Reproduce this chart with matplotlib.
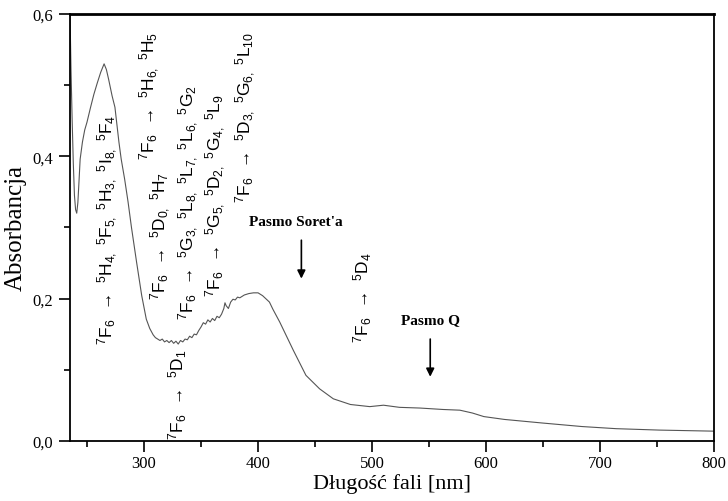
import matplotlib.pyplot as plt
import numpy as np
from matplotlib.ticker import FuncFormatter, MultipleLocator

plt.rcParams['mathtext.fontset'] = 'custom'
plt.rcParams['mathtext.rm'] = 'Liberation Sans'
plt.rcParams['mathtext.default'] = 'regular'

# widmo absorpcyjne
dlugosc = [235, 236, 237, 238, 239, 240, 241, 242, 243, 244, 246, 248, 250, 253, 256,
           259, 262, 265, 267, 269, 272, 274.5, 276, 278, 280, 283, 286, 289, 293.5,
           298, 302, 305, 308, 310, 312, 314, 316, 318, 320, 322, 324, 326, 328, 330,
           332, 334, 336, 338, 340, 342, 344, 346, 348, 350, 352, 354, 356, 358, 360,
           362, 364, 366, 368, 370, 371, 372, 374, 376, 378, 380, 382, 384, 388, 392,
           396, 400, 404, 410, 413, 419, 422, 431, 442, 454, 466, 481, 498, 510, 524,
           542, 562, 577, 588, 598, 616, 649, 684, 714, 752, 800]
absorbancja = [0.61, 0.52, 0.45, 0.39, 0.345, 0.325, 0.32, 0.335, 0.365, 0.396, 0.42,
               0.437, 0.448, 0.468, 0.487, 0.503, 0.518, 0.53, 0.522, 0.508, 0.485,
               0.469, 0.448, 0.42, 0.396, 0.368, 0.336, 0.3, 0.251, 0.204, 0.171,
               0.158, 0.149, 0.145, 0.143, 0.141, 0.143, 0.139, 0.141, 0.138, 0.141,
               0.137, 0.14, 0.136, 0.141, 0.139, 0.143, 0.142, 0.147, 0.145, 0.15,
               0.149, 0.155, 0.16, 0.166, 0.164, 0.17, 0.167, 0.172, 0.169, 0.175,
               0.173, 0.178, 0.186, 0.194, 0.19, 0.186, 0.195, 0.199, 0.198, 0.202,
               0.201, 0.205, 0.207, 0.208, 0.208, 0.204, 0.195, 0.185, 0.167, 0.157,
               0.127, 0.092, 0.073, 0.059, 0.051, 0.048, 0.05, 0.047, 0.046, 0.044,
               0.043, 0.039, 0.034, 0.03, 0.025, 0.02, 0.017, 0.015, 0.0135]

# przejścia Eu3+ : położenie, dolna krawędź napisu, stany końcowe
przejscia_x = [268.2, 305, 314.5, 329.5, 339.3, 362.9, 389.3, 491.9]
przejscia_y = [0.136, 0.396, 0.2, 0.003, 0.171, 0.204, 0.336, 0.139]
przejscia_stany = [
    ['H4', 'F5', 'H3', 'I8', 'F4'],
    ['H6', 'H5'],
    ['D0', 'H7'],
    ['D1'],
    ['G3', 'L8', 'L7', 'L6', 'G2'],
    ['G5', 'D2', 'G4', 'L9'],
    ['D3', 'G6', 'L10'],
    ['D4'],
]


def term(s, last):
    sub = s[1:] + ('' if last else ',')
    return '$^{5}$' + s[0] + '$_{' + sub + '}$'


fig = plt.figure(figsize=(7.28, 5.02), dpi=100)
ax = fig.add_axes([0.096, 0.12, 0.885, 0.85])

ax.plot(dlugosc, absorbancja, color='#555555', lw=0.8)

for xi, yi, stany in zip(przejscia_x, przejscia_y, przejscia_stany):
    koncowe = ' '.join(term(s, i == len(stany) - 1) for i, s in enumerate(stany))
    txt = '$^{7}$F$_{6}$  \u2192  ' + koncowe
    ax.text(xi, yi, txt, rotation=90, ha='left', va='center',
            family='Liberation Sans', fontsize=12.5, rotation_mode='anchor')

strzalka = dict(arrowstyle='-|>', color='black', lw=1.2,
                shrinkA=0, shrinkB=0, mutation_scale=12)
ax.text(433, 0.309, "Pasmo Soret'a", ha='center', va='center',
        family='Liberation Serif', fontweight='bold', fontsize=11)
ax.annotate('', xy=(438, 0.228), xytext=(438, 0.282), arrowprops=strzalka)
ax.text(551, 0.17, "Pasmo Q", ha='center', va='center',
        family='Liberation Serif', fontweight='bold', fontsize=11)
ax.annotate('', xy=(551, 0.09), xytext=(551, 0.143), arrowprops=strzalka)

ax.set_xlim(235, 800)
ax.set_ylim(0, 0.6)
ax.xaxis.set_major_locator(MultipleLocator(100))
ax.xaxis.set_minor_locator(MultipleLocator(50))
ax.yaxis.set_major_locator(MultipleLocator(0.2))
ax.yaxis.set_minor_locator(MultipleLocator(0.1))
ax.yaxis.set_major_formatter(FuncFormatter(lambda v, p: f'{v:.1f}'.replace('.', ',')))
ax.tick_params(which='major', direction='out', length=8, width=1.2,
               labelsize=12, pad=2, top=False, right=False)
ax.tick_params(axis='y', which='major', pad=4)
ax.tick_params(which='minor', direction='out', length=4, width=1.2,
               top=False, right=False)
for lab in ax.get_xticklabels() + ax.get_yticklabels():
    lab.set_family('Liberation Serif')
for sp in ax.spines.values():
    sp.set_linewidth(1.3)
ax.spines['top'].set_linewidth(2)

ax.set_xlabel('Długość fali [nm]', family='Liberation Serif', fontsize=16, labelpad=2)
ax.set_ylabel('Absorbancja', family='Liberation Serif', fontsize=18, labelpad=4)

fig.savefig('out.png', dpi=100)
